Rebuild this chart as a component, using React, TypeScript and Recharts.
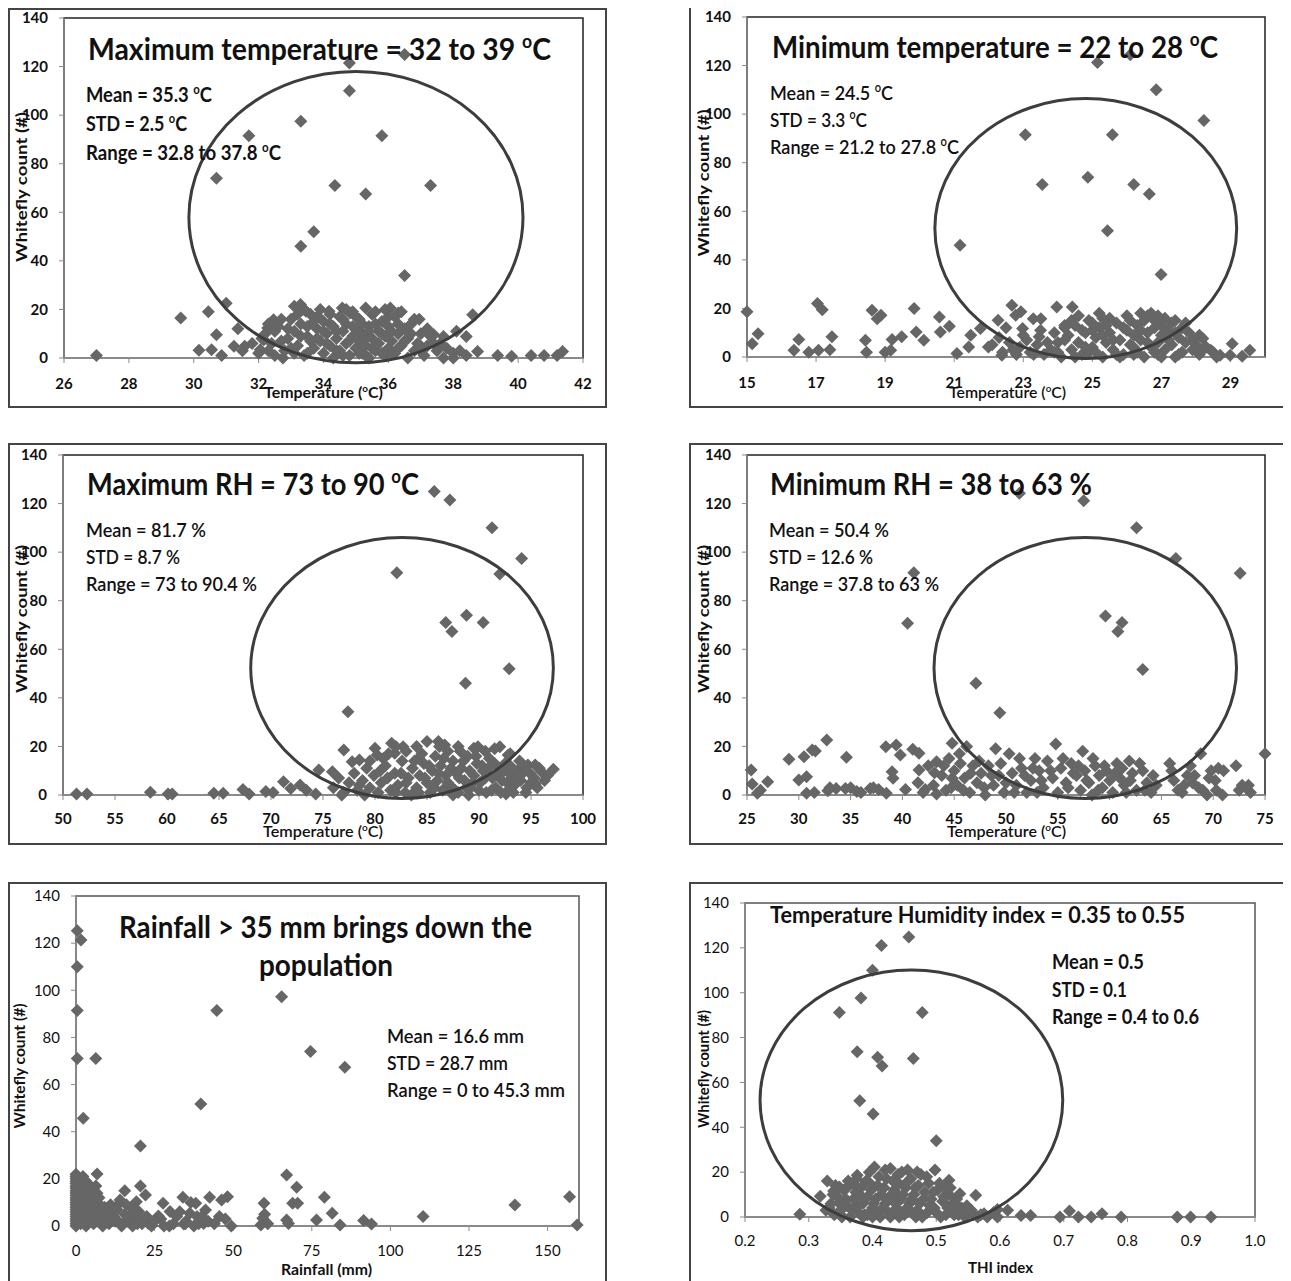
import React from 'react';
import { ScatterChart, Scatter, XAxis, YAxis, ReferenceArea, ReferenceDot } from 'recharts';

type Pt = [number, number];

// whitefly count vs maximum temperature (oC)
const maxTempPoints: Pt[] = [
  [36.5, 125], [34.8, 121.5], [34.8, 110], [33.3, 97.5], [31.7, 91.5], [35.8, 91.5], [30.7, 74],
  [34.35, 71], [37.3, 71], [35.3, 67.5], [33.7, 52], [33.3, 46], [36.5, 34],
  [27, 1], [29.6, 16.5], [30.45, 19], [31, 22.5], [30.7, 9.6], [30.16, 3.2], [30.55, 3.4], [30.86, 1],
  [31.36, 12], [31.24, 4.8], [31.57, 4.8], [32.28, 12.4], [32.46, 15.8], [32.16, 7.5], [32.05, 3.4],
  [32.75, 0], [33.1, 21.3], [33.29, 22], [33.46, 19.2], [33.82, 17.2], [34.17, 19.2], [34.58, 20.6],
  [34.82, 18.5], [35.3, 20.6], [36.06, 20.6], [36.3, 18.5], [36.95, 16], [37.4, 9.6], [37.7, 8.9],
  [38.1, 11], [38.4, 8.9], [38.6, 17.8], [38.75, 2.7], [39.37, 1], [39.8, 0.7], [40.4, 1], [40.8, 1],
  [41.2, 1], [41.37, 2.7], [37.7, 0], [38, 2], [38.4, 1], [37, 4.8],
  [32.2, 10], [32.4, 6], [32.6, 13], [32.8, 3], [32.9, 8], [33.0, 16], [33.1, 11], [33.2, 5], [33.3, 14],
  [33.4, 1], [33.5, 9], [33.6, 18], [33.7, 4], [33.8, 12], [33.9, 7], [34.0, 2], [34.0, 15], [34.1, 10],
  [34.2, 5], [34.3, 13], [34.3, 0], [34.4, 8], [34.5, 17], [34.5, 3], [34.6, 11], [34.7, 6], [34.7, 14],
  [34.8, 1], [34.9, 9], [34.9, 19], [35.0, 4], [35.0, 12], [35.1, 7], [35.1, 16], [35.2, 2], [35.2, 10],
  [35.3, 5], [35.4, 13], [35.4, 0], [35.5, 8], [35.5, 18], [35.6, 3], [35.7, 11], [35.7, 6], [35.8, 15],
  [35.9, 1], [35.9, 9], [36.0, 4], [36.0, 13], [36.1, 7], [36.2, 17], [36.2, 2], [36.3, 10], [36.4, 5],
  [36.5, 12], [36.6, 0], [36.6, 8], [36.7, 14], [36.8, 3], [36.9, 6], [37.0, 10], [37.1, 1], [37.2, 5],
  [37.3, 9], [37.5, 3], [33.1, 2], [33.6, 7], [34.4, 3], [35.3, 1], [36.1, 2], [32.5, 1], [31.8, 6],
  [32.0, 2], [31.5, 3], [33.9, 20], [32.3, 14], [34.2, 18], [35.6, 19], [36.4, 19], [37.6, 6], [38.2, 3],
  [38.0, 0], [37.8, 4],
  [32.1, 8], [32.3, 3], [32.5, 11], [32.7, 16], [32.7, 7], [32.9, 12], [33.0, 4], [33.2, 18], [33.3, 9],
  [33.5, 13], [33.5, 2], [33.7, 15], [33.8, 8], [34.0, 11], [34.1, 6], [34.2, 14], [34.4, 11], [34.6, 1],
  [34.6, 16], [34.8, 7], [34.9, 13], [35.0, 17], [35.1, 2], [35.2, 14], [35.3, 8], [35.4, 11], [35.5, 4],
  [35.6, 14], [35.8, 2], [35.8, 10], [36.0, 17], [36.1, 11], [36.3, 4], [36.3, 14], [36.5, 7], [36.7, 10],
  [36.8, 16], [37.0, 3], [37.2, 12], [37.4, 6], [33.4, 20], [34.7, 20], [35.9, 20],
];

// whitefly count vs minimum temperature (oC)
const minTempPoints: Pt[] = [
  [26.1, 124.5], [25.15, 121.3], [26.85, 110], [28.23, 97.4], [23.06, 91.5], [25.58, 91.5], [24.87, 74],
  [23.55, 71], [26.2, 71], [26.65, 67.1], [25.44, 52], [21.17, 46], [26.99, 34],
  [15, 18.6], [15.15, 5.5], [15.32, 9.6], [16.36, 2.75], [16.5, 7.2], [16.79, 2], [17.04, 22], [17.18, 19.5],
  [17.07, 2.75], [17.4, 3], [17.46, 8.3], [18.43, 6.9], [18.46, 2], [18.62, 19.3], [18.77, 15.8],
  [18.88, 17.2], [19, 2], [19.16, 2.75], [19.2, 7.2], [19.48, 8.3], [19.84, 20], [19.9, 10.3], [20.12, 6.9],
  [20.57, 16.5], [20.6, 10.3], [20.86, 12.7], [21.08, 1.4], [21.48, 9], [21.42, 4.1], [21.76, 11.7],
  [21.99, 4.1], [22.27, 15.1], [22.38, 0.7], [22.67, 21.3], [22.78, 17.2], [22.98, 11.7], [22.93, 18.6],
  [23.29, 15.8], [23.46, 8.3], [23.51, 15.8], [23.97, 20.6], [24.42, 20.6], [24.2, 13], [23.9, 2],
  [28.2, 7.6], [28.43, 2.75], [28.7, 0.7], [28.99, 0.7], [29.05, 5.5], [29.34, 0.3], [29.56, 2.75],
  [22.1, 5], [22.3, 8], [22.4, 2], [22.6, 6], [22.8, 1], [22.9, 4], [23.1, 7], [23.2, 2], [23.4, 5],
  [23.6, 1], [23.8, 3], [24.0, 6], [24.1, 0], [24.3, 9], [24.4, 3], [24.5, 13], [24.6, 6], [24.7, 1],
  [24.8, 10], [24.9, 15], [25.0, 4], [25.1, 8], [25.2, 12], [25.3, 0], [25.4, 6], [25.5, 16], [25.5, 10],
  [25.6, 3], [25.7, 14], [25.8, 7], [25.9, 1], [26.0, 11], [26.0, 17], [26.1, 5], [26.2, 9], [26.3, 13],
  [26.3, 2], [26.4, 7], [26.5, 15], [26.5, 0], [26.6, 10], [26.7, 4], [26.7, 18], [26.8, 12], [26.9, 6],
  [26.9, 1], [27.0, 9], [27.1, 16], [27.1, 3], [27.2, 11], [27.3, 5], [27.3, 14], [27.4, 0], [27.5, 8],
  [27.6, 12], [27.6, 2], [27.7, 6], [27.8, 10], [27.9, 3], [28.0, 5], [28.1, 1], [28.3, 4], [28.5, 2],
  [25.8, 0], [26.2, 1], [24.9, 2], [25.0, 11], [24.6, 17], [23.9, 10], [24.2, 12], [25.2, 18], [26.4, 18],
  [26.9, 17], [27.4, 15], [28.6, 0],
  [22.5, 12], [22.7, 3], [23.0, 9], [23.3, 1], [23.5, 11], [23.7, 6], [24.0, 2], [24.2, 7], [24.4, 15],
  [24.5, 0], [24.7, 11], [24.8, 4], [25.0, 14], [25.1, 2], [25.3, 9], [25.4, 13], [25.6, 7], [25.7, 1],
  [25.9, 12], [26.1, 15], [26.2, 4], [26.4, 11], [26.6, 6], [26.8, 2], [26.8, 15], [27.0, 13], [27.2, 7],
  [27.4, 10], [27.5, 1], [27.7, 14], [27.9, 7], [28.1, 9], [28.2, 3], [25.3, 16], [26.6, 17], [27.0, 0],
];

// whitefly count vs maximum RH
const maxRhPoints: Pt[] = [
  [85.7, 125], [87.2, 121.5], [91.25, 110], [94.1, 97.4], [82.1, 91.5], [92.0, 91], [88.8, 74],
  [86.8, 71], [90.4, 71], [87.4, 67.3], [92.9, 52], [88.7, 46], [77.4, 34.3],
  [51.3, 0.4], [52.3, 0.4], [58.4, 1.1], [60.1, 0.4], [60.5, 0.4], [64.5, 0.7], [65.4, 0.7], [67.3, 2.3],
  [67.9, 0.4], [69.5, 1.4], [70.2, 1], [71.2, 5.5], [71.9, 2.7], [72.8, 4.1], [73.4, 2], [74.3, 0.4],
  [74.6, 10.3], [75.9, 9.6], [77, 18.5], [77.8, 13.7], [78.5, 14.4], [80, 19.2], [80.2, 16.5], [81.6, 21.3],
  [81.9, 17.2], [82.7, 19.9], [84.2, 15.1], [86.1, 22], [86.7, 20.6], [89.5, 19.2], [89.9, 19.9], [92, 19.9],
  [92.8, 16.5], [94.7, 12.4], [95.4, 12.4], [96, 9.6], [97.15, 10.6], [95.4, 4.5], [92.6, 0.4],
  [76.0, 3], [76.5, 7], [77.0, 1], [77.5, 5], [78.0, 9], [78.3, 2], [78.8, 6], [79.2, 11], [79.5, 3],
  [79.9, 8], [80.3, 1], [80.6, 5], [81.0, 12], [81.2, 7], [81.5, 2], [81.9, 9], [82.2, 4], [82.6, 14],
  [82.9, 1], [83.2, 7], [83.6, 11], [84.0, 3], [84.3, 8], [84.7, 13], [85.0, 5], [85.3, 1], [85.5, 10],
  [85.8, 16], [86.0, 6], [86.3, 12], [86.5, 2], [86.8, 8], [87.0, 18], [87.2, 4], [87.5, 14], [87.8, 9],
  [88.0, 1], [88.3, 11], [88.6, 6], [88.9, 16], [89.2, 3], [89.5, 8], [89.8, 13], [90.1, 5], [90.4, 10],
  [90.7, 1], [91.0, 15], [91.3, 7], [91.6, 3], [91.9, 11], [92.2, 6], [92.5, 13], [92.8, 2], [93.1, 8],
  [93.4, 4], [93.7, 10], [94.0, 6], [94.3, 12], [94.6, 3], [94.9, 9], [95.3, 7], [95.8, 11], [96.3, 6],
  [84.5, 17], [83.0, 18], [80.8, 15], [86.2, 20], [88.2, 18], [90.6, 18], [93.0, 17], [87.5, 0], [89.0, 0],
  [83.5, 0], [79.0, 0], [76.8, 0], [85.0, 22],
  [78.5, 4], [79.5, 14], [80.5, 10], [81.3, 17], [82.0, 1], [82.5, 9], [83.0, 5], [83.8, 14], [84.2, 1],
  [84.8, 7], [85.2, 12], [85.7, 3], [86.1, 9], [86.6, 15], [87.0, 5], [87.3, 11], [87.7, 2], [88.1, 7],
  [88.5, 14], [88.8, 3], [89.1, 10], [89.4, 5], [89.7, 16], [90.0, 2], [90.3, 12], [90.6, 7], [90.9, 11],
  [91.2, 2], [91.5, 13], [91.8, 8], [92.1, 1], [92.4, 10], [92.7, 5], [93.0, 12], [93.3, 1], [93.6, 7],
  [93.9, 14], [94.2, 9], [94.5, 1], [95.0, 5], [95.6, 3], [96.6, 8], [82.0, 20], [84.0, 20], [88.0, 20],
  [91.5, 19],
];

// whitefly count vs minimum RH
const minRhPoints: Pt[] = [
  [51.3, 124.2], [57.5, 121.2], [62.6, 110], [66.4, 97.4], [41.1, 91.5], [72.6, 91.3], [59.6, 73.7],
  [40.5, 70.7], [61.2, 71], [60.8, 67.3], [63.2, 51.7], [47.1, 46], [49.4, 33.9],
  [25.4, 10.3], [25.5, 4.5], [26, 0.7], [27, 5.5], [29.05, 14.7], [30, 6.2], [30.5, 15.8], [30.75, 7.5],
  [30.75, 0.7], [31.3, 18.5], [31.6, 18.1], [32.7, 22.6], [32.8, 1.8], [33.6, 2.7], [34.6, 15.5],
  [34.5, 2.7], [35.6, 1.4], [36.9, 2.7], [37.7, 2.3], [38.4, 19.9], [38.45, 0.7], [39, 9.6], [39.4, 20.6],
  [39.8, 16.5], [39.1, 6.9], [40.3, 2.3], [41, 18.8], [41.6, 17.2], [41.6, 10.3], [42.2, 2.3], [43.1, 9.2],
  [43.3, 13.7], [43.3, 0.4], [44.8, 21.3], [44.8, 6.9],
  [41.5, 5], [42.0, 1], [42.5, 12], [43.0, 4], [43.8, 8], [44.2, 2], [44.5, 15], [45.0, 10], [45.3, 4],
  [45.6, 13], [46.0, 7], [46.2, 20], [46.5, 1], [46.8, 12], [47.2, 5], [47.6, 9], [48.0, 0], [48.3, 12],
  [48.8, 4], [49.0, 19], [49.3, 8], [49.8, 1], [50.3, 17], [50.6, 9], [51.0, 4], [51.5, 11], [52.0, 1],
  [52.4, 6], [52.8, 15], [53.2, 10], [53.6, 3], [54.0, 14], [54.5, 7], [54.8, 21], [55.0, 1], [55.3, 11],
  [55.8, 5], [56.3, 13], [56.8, 8], [57.2, 2], [57.4, 18], [57.6, 10], [58.0, 5], [58.3, 0], [58.6, 12],
  [59.0, 8], [59.3, 3], [59.7, 10], [60.0, 6], [60.3, 1], [60.7, 13], [61.0, 7], [61.4, 4], [61.9, 14],
  [62.2, 9], [62.6, 2], [63.2, 10], [63.6, 5], [64.0, 1], [64.5, 4], [65.8, 13], [66.2, 6], [66.6, 2],
  [67.2, 4], [67.8, 12], [68.2, 8], [68.6, 3], [68.8, 17], [69.4, 0], [69.8, 10], [70.2, 6], [70.5, 11],
  [70.9, 0], [72.2, 12], [72.5, 2], [73.2, 3], [73.6, 1], [75.0, 17], [35.0, 3], [36.0, 1], [37.2, 3],
  [31.5, 1], [33.0, 3], [26.3, 2],
  [44.0, 12], [44.7, 3], [45.5, 17], [45.9, 2], [46.6, 9], [47.4, 14], [47.9, 3], [48.6, 8], [49.5, 13],
  [50.0, 5], [50.8, 1], [51.3, 15], [51.8, 8], [52.6, 11], [53.0, 1], [53.4, 6], [54.3, 10], [55.5, 15],
  [56.0, 3], [56.5, 9], [57.0, 12], [57.8, 6], [58.4, 15], [58.9, 2], [59.5, 12], [60.5, 9], [61.2, 11],
  [61.6, 1], [62.0, 6], [62.9, 13], [63.4, 2], [64.2, 8], [66.0, 10], [67.0, 1], [67.5, 8], [68.0, 5],
  [69.0, 2], [69.6, 7], [70.3, 2], [71.0, 10], [72.8, 4], [73.4, 4],
];

// whitefly count vs rainfall (mm)
const rainPoints: Pt[] = [
  [0.4, 125.3], [1.6, 121.3], [0.4, 110], [65.4, 97.3], [0.4, 91.4], [44.8, 91.4], [74.6, 74],
  [0.4, 71.1], [6.3, 71.1], [85.5, 67.3], [39.7, 51.8], [2.3, 45.7], [20.5, 33.9],
  [67, 21.6], [70.2, 16.4], [79, 12.2], [68.9, 9.6], [70.5, 9.6], [81.5, 5.4], [76.5, 2.5], [84, 0.4],
  [91.5, 2.3], [94, 0.8], [110.4, 4], [139.6, 8.9], [157, 12.4], [159.4, 0.4], [67, 2.5], [67.6, 1.1],
  [58.8, 0.4], [59.8, 9.6], [59.4, 3.3], [49.4, 0], [48.2, 12.4], [46.3, 11], [45.6, 4], [42.5, 12.2],
  [41.2, 6.8], [40.6, 1.1], [38.1, 9.6], [36.2, 5.4], [34, 12.2], [34.3, 0.8], [29.9, 6.1], [29.7, 0],
  [27.7, 9.6], [26.2, 4.2], [23, 1.1], [22.1, 13.2], [20.5, 17], [19.2, 10.3], [17.4, 3.3], [15.5, 15],
  [13.6, 9.3], [13, 2.5], [9.8, 7.5], [6.7, 22.1], [6.7, 13.9], [4.8, 10.3], [2.9, 16.7],
  [0, 22], [0, 20], [0, 18], [0, 16], [0, 14], [0, 12], [0, 10], [0, 8], [0, 6], [0, 4], [0, 2], [0, 0],
  [0.5, 19], [0.8, 11], [1, 5], [1.2, 17], [1.5, 1], [1.8, 13], [2, 8], [2.2, 21], [2.5, 3], [2.8, 15],
  [3, 10], [3.2, 0], [3.5, 6], [3.8, 18], [4, 12], [4.3, 2], [4.6, 8], [5, 15], [5.3, 4], [5.6, 1], [6, 11],
  [6.5, 6], [7, 2], [7.5, 9], [8, 4], [8.5, 0], [9.5, 3], [10.5, 1], [11.5, 5], [12.5, 2], [14, 11],
  [14.5, 0], [15.5, 5], [16.5, 2], [17.5, 8], [18, 0], [19, 3], [20, 6], [21, 1], [24, 0], [27, 3], [31, 1],
  [33, 6], [35, 2], [36.5, 10], [37.5, 0], [38.5, 4], [42, 2], [47.5, 3], [60, 5], [61, 1],
  [0, 1], [0, 3], [0, 5], [0, 7], [0, 9], [0, 11], [0, 13], [0, 15], [0, 17], [0, 19], [0, 21], [0.6, 3],
  [0.9, 7], [1.1, 14], [1.4, 10], [1.7, 4], [2.1, 16], [2.4, 12], [2.7, 6], [3.1, 19], [3.4, 13], [3.7, 2],
  [4.1, 9], [4.4, 16], [4.8, 5], [5.2, 12], [5.8, 7], [6.3, 17], [6.8, 3], [7.3, 12], [7.8, 6], [9, 8],
  [10, 2], [11, 9], [12, 4], [13, 7], [15, 1], [16, 9], [17, 4], [18.5, 6], [19.5, 1], [20.5, 3], [22.5, 4],
  [25, 2], [28, 0], [32, 4], [34.8, 1], [39, 1], [40, 4], [44, 1],
];

// whitefly count vs THI index
const thiPoints: Pt[] = [
  [0.457, 124.8], [0.414, 121], [0.4, 110], [0.382, 97.6], [0.348, 91.2], [0.478, 91.2], [0.376, 73.7],
  [0.408, 71.2], [0.464, 70.7], [0.415, 67.3], [0.38, 51.8], [0.401, 45.9], [0.5, 34],
  [0.286, 1.2], [0.44, 9.7], [0.562, 9.7], [0.596, 3.3], [0.612, 3], [0.633, 0.7], [0.648, 0.7], [0.694, 0],
  [0.709, 2.7], [0.723, 0], [0.743, 0], [0.76, 1.5], [0.79, 0], [0.878, 0], [0.899, 0], [0.931, 0],
  [0.575, 1.5], [0.596, 0],
  [0.329, 16.1], [0.318, 9.2], [0.327, 3], [0.339, 11.6], [0.348, 13.4], [0.376, 18.6], [0.403, 22.3],
  [0.428, 21.6], [0.446, 20.1], [0.47, 20.1], [0.498, 20.9], [0.52, 16.4], [0.513, 13.4], [0.537, 10.4],
  [0.526, 6],
  [0.335, 6], [0.34, 1], [0.345, 9], [0.35, 3], [0.355, 12], [0.36, 5], [0.365, 0], [0.37, 8], [0.372, 14],
  [0.378, 2], [0.38, 10], [0.385, 6], [0.39, 16], [0.392, 1], [0.398, 12], [0.4, 4], [0.405, 8], [0.41, 18],
  [0.412, 0], [0.418, 13], [0.42, 6], [0.425, 2], [0.43, 10], [0.432, 16], [0.438, 4], [0.44, 19], [0.445, 8],
  [0.45, 1], [0.452, 13], [0.458, 6], [0.46, 17], [0.465, 10], [0.47, 3], [0.472, 14], [0.478, 0], [0.48, 8],
  [0.485, 18], [0.49, 5], [0.495, 11], [0.5, 2], [0.505, 15], [0.51, 7], [0.515, 1], [0.52, 10], [0.525, 3],
  [0.53, 6], [0.535, 1], [0.54, 4], [0.545, 0], [0.55, 2], [0.558, 1], [0.565, 0], [0.42, 21], [0.455, 21],
  [0.395, 20], [0.375, 17], [0.36, 13], [0.35, 1], [0.442, 0], [0.462, 2], [0.385, 0],
  [0.332, 4], [0.338, 10], [0.342, 14], [0.348, 6], [0.352, 0], [0.358, 8], [0.362, 16], [0.368, 3],
  [0.374, 11], [0.377, 5], [0.382, 13], [0.388, 1], [0.392, 9], [0.396, 15], [0.402, 6], [0.407, 2],
  [0.408, 14], [0.414, 10], [0.416, 4], [0.422, 17], [0.424, 8], [0.428, 0], [0.434, 12], [0.436, 6],
  [0.441, 15], [0.443, 2], [0.448, 10], [0.454, 4], [0.456, 16], [0.462, 8], [0.467, 13], [0.468, 0],
  [0.474, 6], [0.476, 19], [0.482, 11], [0.486, 2], [0.488, 15], [0.492, 8], [0.497, 4], [0.502, 12],
  [0.507, 0], [0.512, 9], [0.518, 4], [0.522, 13], [0.528, 1], [0.532, 8], [0.538, 2], [0.548, 5],
  [0.555, 3], [0.57, 1], [0.58, 0], [0.59, 2], [0.4, 0], [0.43, 1],
];

const yTicks = [0, 20, 40, 60, 80, 100, 120, 140];
const maxTempTicks = [26, 28, 30, 32, 34, 36, 38, 40, 42];
const minTempTicks = [15, 17, 19, 21, 23, 25, 27, 29];
const maxRhTicks = [50, 55, 60, 65, 70, 75, 80, 85, 90, 95, 100];
const minRhTicks = [25, 30, 35, 40, 45, 50, 55, 60, 65, 70, 75];
const rainTicks = [0, 25, 50, 75, 100, 125, 150];
const thiTicks = [0.2, 0.3, 0.4, 0.5, 0.6, 0.7, 0.8, 0.9, 1.0];

const FONT = 'Lato, "Open Sans", sans-serif';
const POINT_FILL = '#666666';

interface Label { text: string; x: number; y: number; w: number; size: number; weight?: number; rotate?: boolean }

interface PanelCfg {
  box: { left: number; top: number; width: number; height: number };
  plot: { left: number; top: number; right: number; bottom: number };
  xDomain: [number, number];
  xTicks: number[];
  xFormat?: (v: number) => string;
  points: Pt[];
  ellipse?: { cx: number; cy: number; rx: number; ry: number };
  boldTicks: boolean;
  xTickGap: number;
  borderColor: string;
  labels: Label[];
}

const panels: PanelCfg[] = [
  {
    box: { left: 8, top: 8, width: 599, height: 400 },
    plot: { left: 64, top: 18, right: 583, bottom: 358 },
    xDomain: [26, 42], xTicks: maxTempTicks, points: maxTempPoints,
    ellipse: { cx: 35, cy: 58, rx: 5.15, ry: 60 },
    boldTicks: true, xTickGap: 15, borderColor: '#222',
    labels: [
      { text: 'Maximum temperature = 32 to 39 ºC', x: 88, y: 60, w: 463, size: 30, weight: 700 },
      { text: 'Mean = 35.3 ºC', x: 86, y: 102, w: 126, size: 20, weight: 700 },
      { text: 'STD = 2.5 ºC', x: 86, y: 131, w: 101, size: 20, weight: 700 },
      { text: 'Range = 32.8 to 37.8 ºC', x: 86, y: 160, w: 195, size: 20, weight: 700 },
      { text: 'Whitefly count (#)', x: 21, y: 187, w: 150, size: 16, weight: 700, rotate: true },
      { text: 'Temperature (ºC)', x: 264, y: 398, w: 119, size: 16, weight: 700 },
    ],
  },
  {
    box: { left: 689, top: 6, width: 600, height: 402 },
    plot: { left: 747, top: 17, right: 1265, bottom: 357 },
    xDomain: [15, 30], xTicks: minTempTicks, points: minTempPoints,
    ellipse: { cx: 24.81, cy: 52.9, rx: 4.37, ry: 53.5 },
    boldTicks: true, xTickGap: 15, borderColor: '#222',
    labels: [
      { text: 'Minimum temperature = 22 to 28 ºC', x: 772, y: 58, w: 446, size: 30, weight: 700 },
      { text: 'Mean = 24.5 ºC', x: 770, y: 100, w: 123, size: 20, weight: 600 },
      { text: 'STD = 3.3 ºC', x: 770, y: 127, w: 97, size: 20, weight: 600 },
      { text: 'Range = 21.2 to 27.8 ºC', x: 770, y: 154, w: 189, size: 20, weight: 600 },
      { text: 'Whitefly count (#)', x: 703, y: 183, w: 147, size: 16, weight: 700, rotate: true },
      { text: 'Temperature (ºC)', x: 949, y: 398, w: 117, size: 16, weight: 600 },
    ],
  },
  {
    box: { left: 8, top: 443, width: 599, height: 402 },
    plot: { left: 63, top: 455, right: 583, bottom: 795 },
    xDomain: [50, 100], xTicks: maxRhTicks, points: maxRhPoints,
    ellipse: { cx: 82.6, cy: 52.3, rx: 14.55, ry: 53.7 },
    boldTicks: true, xTickGap: 13, borderColor: '#222',
    labels: [
      { text: 'Maximum RH = 73 to 90 ºC', x: 87, y: 495, w: 332, size: 30, weight: 700 },
      { text: 'Mean = 81.7 %', x: 86, y: 537, w: 120, size: 20, weight: 600 },
      { text: 'STD = 8.7 %', x: 86, y: 564, w: 94, size: 20, weight: 600 },
      { text: 'Range = 73 to 90.4 %', x: 86, y: 591, w: 171, size: 20, weight: 600 },
      { text: 'Whitefly count (#)', x: 21, y: 619, w: 148, size: 16, weight: 700, rotate: true },
      { text: 'Temperature (ºC)', x: 263, y: 837, w: 120, size: 16, weight: 600 },
    ],
  },
  {
    box: { left: 689, top: 443, width: 600, height: 402 },
    plot: { left: 747, top: 455, right: 1265, bottom: 795 },
    xDomain: [25, 75], xTicks: minRhTicks, points: minRhPoints,
    ellipse: { cx: 57.65, cy: 52.3, rx: 14.6, ry: 53.7 },
    boldTicks: true, xTickGap: 13, borderColor: '#222',
    labels: [
      { text: 'Minimum RH = 38 to 63 %', x: 770, y: 495, w: 322, size: 30, weight: 700 },
      { text: 'Mean = 50.4 %', x: 769, y: 537, w: 120, size: 20, weight: 600 },
      { text: 'STD = 12.6 %', x: 769, y: 564, w: 104, size: 20, weight: 600 },
      { text: 'Range = 37.8 to 63 %', x: 769, y: 591, w: 170, size: 20, weight: 600 },
      { text: 'Whitefly count (#)', x: 703, y: 619, w: 148, size: 16, weight: 700, rotate: true },
      { text: 'Temperature (ºC)', x: 947, y: 837, w: 119, size: 16, weight: 600 },
    ],
  },
  {
    box: { left: 8, top: 882, width: 599, height: 402 },
    plot: { left: 76, top: 896, right: 579, bottom: 1226 },
    xDomain: [0, 160], xTicks: rainTicks, points: rainPoints,
    boldTicks: false, xTickGap: 14, borderColor: '#555',
    labels: [
      { text: 'Rainfall > 35 mm brings down the', x: 119, y: 938, w: 413, size: 30, weight: 700 },
      { text: 'population', x: 259, y: 976, w: 134, size: 30, weight: 700 },
      { text: 'Mean = 16.6 mm', x: 387, y: 1043, w: 137, size: 20, weight: 600 },
      { text: 'STD = 28.7 mm', x: 387, y: 1070, w: 121, size: 20, weight: 600 },
      { text: 'Range = 0 to 45.3 mm', x: 387, y: 1097, w: 178, size: 20, weight: 600 },
      { text: 'Whitefly count (#)', x: 19, y: 1066, w: 125, size: 16, weight: 700, rotate: true },
      { text: 'Rainfall (mm)', x: 281, y: 1275, w: 91, size: 16, weight: 700 },
    ],
  },
  {
    box: { left: 689, top: 882, width: 600, height: 402 },
    plot: { left: 745, top: 903, right: 1255, bottom: 1217 },
    xDomain: [0.2, 1.0], xTicks: thiTicks, xFormat: (v: number) => v.toFixed(1), points: thiPoints,
    ellipse: { cx: 0.461, cy: 52, rx: 0.2374, ry: 58.1 },
    boldTicks: false, xTickGap: 13, borderColor: '#555',
    labels: [
      { text: 'Temperature Humidity index = 0.35 to 0.55', x: 770, y: 923, w: 415, size: 23, weight: 700 },
      { text: 'Mean = 0.5', x: 1052, y: 969, w: 92, size: 20, weight: 700 },
      { text: 'STD = 0.1', x: 1052, y: 997, w: 75, size: 20, weight: 700 },
      { text: 'Range = 0.4 to 0.6', x: 1052, y: 1024, w: 147, size: 20, weight: 700 },
      { text: 'Whitefly count (#)', x: 703, y: 1069, w: 118, size: 16, weight: 700, rotate: true },
      { text: 'THI index', x: 968, y: 1273, w: 65, size: 16, weight: 700 },
    ],
  },
];

const Diamond = (props: any) => {
  const cx = props.cx ?? props.x + (props.width || 0) / 2;
  const cy = props.cy ?? props.y + (props.height || 0) / 2;
  const s = 6.5;
  return <path d={`M${cx},${cy - s}L${cx + s},${cy}L${cx},${cy + s}L${cx - s},${cy}Z`} fill={POINT_FILL} />;
};

const Txt = ({ l }: { l: Label }) => {
  const parts = l.text.split('º');
  const sup = l.size * 0.62;
  const shift = l.size * 0.4;
  let x = l.x;
  let y = l.y;
  let transform: string | undefined;
  if (l.rotate) {
    // x,y is the centre of the rotated label
    x = l.x - l.w / 2;
    y = l.y + l.size * 0.36;
    transform = `rotate(-90 ${l.x} ${l.y})`;
  }
  return (
    <text x={x} y={y} transform={transform} fontSize={l.size} fontWeight={l.weight || 400}
      fontFamily={FONT} fill="#111" textLength={l.w} lengthAdjust="spacingAndGlyphs">
      {parts.map((p, i) => i === 0 ? <tspan key={i}>{p}</tspan> : (
        <React.Fragment key={i}>
          <tspan dy={-shift} fontSize={sup}>o</tspan>
          <tspan dy={shift}>{p}</tspan>
        </React.Fragment>
      ))}
    </text>
  );
};

const Panel = ({ c }: { c: PanelCfg }) => {
  const { box, plot } = c;
  const yAxisW = 40;
  const xAxisH = 30;
  const margin = {
    top: plot.top - box.top,
    right: box.left + box.width - plot.right,
    bottom: box.top + box.height - plot.bottom - xAxisH,
    left: plot.left - box.left - yAxisW,
  };
  const pxPerX = (plot.right - plot.left) / (c.xDomain[1] - c.xDomain[0]);
  const pxPerY = (plot.bottom - plot.top) / 140;
  const data = c.points.map(([x, y]) => ({ x, y }));
  const tickStyle = { fontSize: 15, fontWeight: c.boldTicks ? 700 : 400, fill: '#111', fontFamily: FONT };
  const ell = c.ellipse;

  return (
    <div style={{ position: 'absolute', left: box.left, top: box.top, width: box.width, height: box.height }}>
      <ScatterChart width={box.width} height={box.height} margin={margin}>
        <XAxis type="number" dataKey="x" domain={c.xDomain} ticks={c.xTicks} interval={0} height={xAxisH}
          tickSize={5} tickMargin={c.xTickGap} tick={tickStyle} tickFormatter={c.xFormat}
          axisLine={{ stroke: '#8a8a8a', strokeWidth: 2 }} tickLine={{ stroke: '#8a8a8a' }} />
        <YAxis type="number" dataKey="y" domain={[0, 140]} ticks={yTicks} interval={0} width={yAxisW}
          tickSize={5} tickMargin={11} tick={tickStyle}
          axisLine={{ stroke: '#8a8a8a', strokeWidth: 1.5 }} tickLine={{ stroke: '#8a8a8a' }} />
        <ReferenceArea x1={c.xDomain[0]} x2={c.xDomain[1]} y1={0} y2={140} fill="none"
          stroke={c.borderColor} strokeWidth={1.5} ifOverflow="visible" />
        <Scatter data={data} isAnimationActive={false} shape={Diamond} />
        {ell && (
          <ReferenceDot x={ell.cx} y={ell.cy} r={1} ifOverflow="visible"
            shape={(p: any) => (
              <ellipse cx={p.cx} cy={p.cy} rx={ell.rx * pxPerX} ry={ell.ry * pxPerY}
                fill="none" stroke="#3d3d3d" strokeWidth={3} />
            )} />
        )}
      </ScatterChart>
      <div style={{ position: 'absolute', inset: 0, border: '2px solid #444', boxSizing: 'border-box', pointerEvents: 'none' }} />
    </div>
  );
};

export default function App() {
  return (
    <div style={{ position: 'relative', width: 1291, height: 1281, background: '#fff' }}>
      <div style={{ position: 'absolute', left: -8, top: -8, width: 1291, height: 1281 }}>
        {panels.map((c, i) => <Panel key={i} c={c} />)}
        <svg width={1291} height={1281} style={{ position: 'absolute', left: 0, top: 0, pointerEvents: 'none' }}>
          {panels.map((c, i) => (
            <g key={i}>{c.labels.map((l, j) => <Txt key={j} l={l} />)}</g>
          ))}
        </svg>
      </div>
    </div>
  );
}
